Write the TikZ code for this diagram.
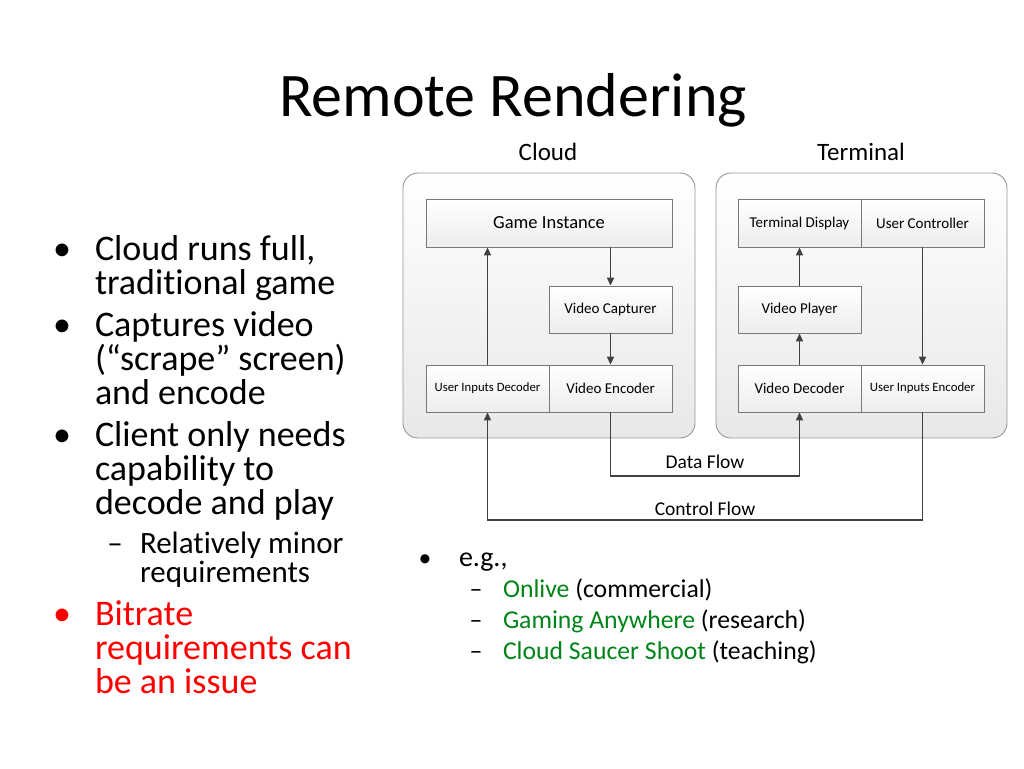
\documentclass[tikz,border=0pt]{standalone}
\usepackage{fontspec}
\setmainfont{Carlito}[Ligatures=CommonOff]
\usetikzlibrary{arrows.meta}
\definecolor{txtgreen}{RGB}{0,132,24}
\definecolor{arrowgray}{RGB}{64,64,64}
\definecolor{boxline}{RGB}{120,120,120}
\definecolor{contline}{RGB}{150,150,150}
\tikzset{
  txt/.style={inner sep=0pt, outer sep=0pt, anchor=base west},
  bul/.style={inner sep=0pt, outer sep=0pt, anchor=base},
  bigtxt/.style={font=\fontsize{36}{35}\selectfont},
  subtxt/.style={font=\fontsize{31}{29}\selectfont},
  rtxt/.style={font=\fontsize{25.7}{31}\selectfont},
  container/.style={draw=contline, line width=0.9pt, rounded corners=15pt,
    top color=white, bottom color=black!9, minimum width=#1, minimum height=265pt, inner sep=0pt},
  blk/.style={draw=boxline, line width=0.8pt, top color=white, bottom color=black!7,
    minimum height=47pt, inner sep=0pt, font=\fontsize{15}{17}\selectfont},
  flow/.style={draw=arrowgray, line width=1.4pt, -{Triangle[length=8pt,width=7pt]}},
  flowlab/.style={inner sep=0pt, font=\fontsize{19.5}{22}\selectfont},
}
\begin{document}
\begin{tikzpicture}[x=1pt,y=-1pt]
\useasboundingbox (0,0) rectangle (1024,768);
\fill[white] (0,0) rectangle (1024,768);

% title
\node[bul, font=\fontsize{62}{70}\selectfont] (title) at (513,116) {Remote Rendering};

% left bullets
\node[bul, bigtxt] (b1) at (62,260) {•};
\node[txt, bigtxt] (l1) at (95,260) {Cloud runs full,};
\node[txt, bigtxt] (l2) at (95,294) {traditional game};
\node[bul, bigtxt] (b2) at (62,336) {•};
\node[txt, bigtxt] (l3) at (95,336) {Captures video};
\node[txt, bigtxt] (l4) at (95,370) {(“scrape” screen)};
\node[txt, bigtxt] (l5) at (95,404) {and encode};
\node[bul, bigtxt] (b3) at (62,446) {•};
\node[txt, bigtxt] (l6) at (95,446) {Client only needs};
\node[txt, bigtxt] (l7) at (95,480) {capability to};
\node[txt, bigtxt] (l8) at (95,514) {decode and play};
\node[bul, subtxt] (d1) at (115,553) {–};
\node[txt, subtxt] (l9) at (140,553) {Relatively minor};
\node[txt, subtxt] (l10) at (140,582) {requirements};
\node[bul, bigtxt, text=red] (b4) at (62,625) {•};
\node[txt, bigtxt, text=red] (l11) at (95,625) {Bitrate};
\node[txt, bigtxt, text=red] (l12) at (95,659) {requirements can};
\node[txt, bigtxt, text=red] (l13) at (95,693) {be an issue};

% right bullets
\node[bul, rtxt] (rb) at (425,566) {•};
\node[txt, font=\fontsize{28}{31}\selectfont] (r0) at (459,566) {e.g.,};
\node[bul, rtxt] (rd1) at (476,597) {–};
\node[txt, rtxt] (r1) at (503,597) {\textcolor{txtgreen}{Onlive} (commercial)};
\node[bul, rtxt] (rd2) at (476,628) {–};
\node[txt, rtxt] (r2) at (503,628) {\textcolor{txtgreen}{Gaming Anywhere} (research)};
\node[bul, rtxt] (rd3) at (476,659) {–};
\node[txt, rtxt] (r3) at (503,659) {\textcolor{txtgreen}{Cloud Saucer Shoot} (teaching)};

% containers
\node[container=292pt] (cloud) at (549,305.5) {};
\node[container=291pt] (term) at (861.5,305.5) {};
\node[flowlab, font=\fontsize{25}{28}\selectfont] (cloudlab) at (548,152) {Cloud};
\node[flowlab, font=\fontsize{25}{28}\selectfont] (termlab) at (861,152) {Terminal};

% cloud blocks
\node[blk, minimum width=246pt, minimum height=48pt, font=\fontsize{18.5}{20}\selectfont] (gi) at (549,223) {Game Instance};
\node[blk, minimum width=123pt] (vc) at (610.5,309.5) {Video Capturer};
\node[blk, minimum width=123pt, font=\fontsize{12.7}{15}\selectfont] (uid) at (487.5,388.5) {User Inputs Decoder};
\node[blk, minimum width=123pt] (ve) at (610.5,388.5) {Video Encoder};

% terminal blocks
\node[blk, minimum width=123pt, minimum height=48pt] (td) at (799.5,223) {Terminal Display};
\node[blk, minimum width=123pt, minimum height=48pt] (uc) at (922.5,223) {User Controller};
\node[blk, minimum width=123pt] (vp) at (799.5,309.5) {Video Player};
\node[blk, minimum width=123pt] (vd) at (799.5,388.5) {Video Decoder};
\node[blk, minimum width=123pt, font=\fontsize{12.8}{15}\selectfont] (uie) at (922.5,388.5) {User Inputs Encoder};

% flow coordinates
\coordinate (dfy) at (705,476);
\coordinate (cfy) at (705,520);
\node[flowlab] (dflab) at (705,462) {Data Flow};
\node[flowlab] (cflab) at (705,509) {Control Flow};

% arrows inside cloud
\draw[flow] (vc.north |- gi.south) -- (vc.north);
\draw[flow] (vc.south) -- (ve.north);
\draw[flow] (uid.north) -- (uid.north |- gi.south);
% arrows inside terminal
\draw[flow] (vd.north) -- (vp.south);
\draw[flow] (vp.north) -- (td.south);
\draw[flow] (uc.south -| uie.north) -- (uie.north);
% data flow
\draw[flow] (ve.south) -- (ve.south |- dfy) -| (vd.south);
% control flow
\draw[flow] (uie.south) -- (uie.south |- cfy) -| (uid.south);
\end{tikzpicture}
\end{document}
